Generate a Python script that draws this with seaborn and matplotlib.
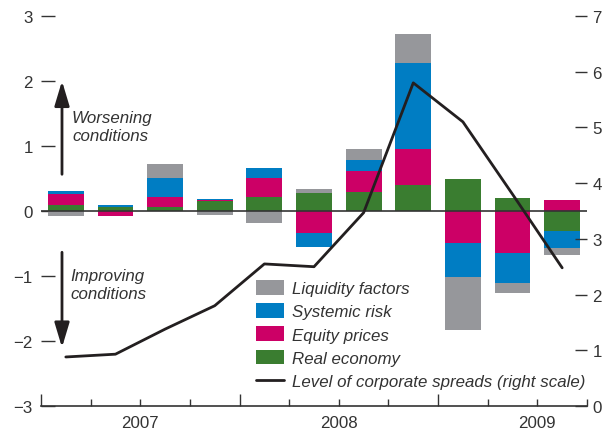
import numpy as np
import pandas as pd
import matplotlib
matplotlib.use("Agg")
import matplotlib.pyplot as plt
from matplotlib.patches import Patch
from matplotlib.lines import Line2D
from matplotlib.ticker import FixedLocator
import matplotlib.transforms as mtransforms
import seaborn as sns

# ---- data ----
quarters = ["2007Q1", "2007Q2", "2007Q3", "2007Q4",
            "2008Q1", "2008Q2", "2008Q3", "2008Q4",
            "2009Q1", "2009Q2", "2009Q3"]
real_economy = [0.09, 0.06, 0.06, 0.15, 0.22, 0.28, 0.30, 0.40, 0.49, 0.20, -0.31]
equity_prices = [0.17, -0.07, 0.15, 0.02, 0.29, -0.34, 0.31, 0.55, -0.49, -0.65, 0.17]
systemic_risk = [0.05, 0.04, 0.30, 0.02, 0.15, -0.21, 0.17, 1.32, -0.53, -0.46, -0.26]
liquidity_factors = [-0.08, 0.0, 0.22, -0.06, -0.19, 0.06, 0.17, 0.46, -0.81, -0.15, -0.11]
corporate_spreads = [0.88, 0.93, 1.38, 1.80, 2.55, 2.50, 3.47, 5.80, 5.10, 3.80, 2.48]
year_labels = ["2007", "2008", "2009"]
year_label_pos = [1.5, 5.5, 9.5]

series_names = ["Real economy", "Equity prices", "Systemic risk", "Liquidity factors"]
series_values = [real_economy, equity_prices, systemic_risk, liquidity_factors]
colors = {"Real economy": "#3a7d30",
          "Equity prices": "#cc0066",
          "Systemic risk": "#007dc3",
          "Liquidity factors": "#96979b"}
dark = "#231f20"
txt = "#333333"

sns.set_theme(style="white")
plt.rcParams["font.family"] = ["Liberation Sans", "DejaVu Sans"]
FS = 12.2

fig = plt.figure(figsize=(6.09, 4.39), dpi=100)
W, H = 609, 439
ax = fig.add_axes([41 / W, 1 - 407 / H, (587 - 41) / W, (407 - 17) / H])

x = np.arange(len(quarters))
pos_bottom = np.zeros(len(x))
neg_bottom = np.zeros(len(x))
for name, vals in zip(series_names, series_values):
    v = np.array(vals, dtype=float)
    b = np.where(v >= 0, pos_bottom, neg_bottom)
    ax.bar(x, v, bottom=b, width=0.72, color=colors[name], linewidth=0, zorder=2)
    pos_bottom += np.where(v > 0, v, 0)
    neg_bottom += np.where(v < 0, v, 0)

ax.axhline(0, color=txt, lw=1.2, zorder=3)
ax.set_xlim(-0.5, 10.5)
ax.set_ylim(-3, 3)
ax.set_yticks([-3, -2, -1, 0, 1, 2, 3])
ax.set_xticks([-0.5, 3.5, 7.5])
ax.xaxis.set_minor_locator(FixedLocator([0.5, 1.5, 2.5, 4.5, 5.5, 6.5, 8.5, 9.5, 10.5]))
ax.set_xticklabels([])
ax.tick_params(axis="x", which="major", direction="in", length=9, width=1, color=txt, bottom=True)
ax.tick_params(axis="x", which="minor", direction="in", length=5, width=1, color=txt, bottom=True)
ax.tick_params(axis="y", direction="in", length=10, width=1, color=txt, pad=6,
               labelsize=FS, labelcolor=txt, left=True)
for s in ["left", "right", "top"]:
    ax.spines[s].set_visible(False)
ax.spines["bottom"].set_color(txt)
ax.spines["bottom"].set_linewidth(1.2)
ax.grid(False)

trans = mtransforms.blended_transform_factory(ax.transData, ax.transAxes)
for lab, p in zip(year_labels, year_label_pos):
    ax.text(p, -0.022, lab, transform=trans, ha="center", va="top", fontsize=FS, color=txt)

# right axis line
ax2 = ax.twinx()
df = pd.DataFrame({"x": x, "spreads": corporate_spreads})
sns.lineplot(data=df, x="x", y="spreads", ax=ax2, color=dark, lw=2.0, zorder=4)
ax2.set_ylim(0, 7)
ax2.set_yticks(range(0, 8))
ax2.set_ylabel("")
ax2.set_xlabel("")
ax2.tick_params(axis="y", direction="in", length=9, width=1, color=txt, pad=4,
                labelsize=FS, labelcolor=txt, right=True)
for s in ["left", "right", "top", "bottom"]:
    ax2.spines[s].set_visible(False)
ax2.grid(False)

# arrows and annotations
arrow_style = "-|>,head_length=1.0,head_width=0.3"
ax.annotate("", xy=(-0.077, 2.0), xytext=(-0.077, 0.565),
            arrowprops=dict(arrowstyle=arrow_style, color=dark, lw=2.0, mutation_scale=15,
                            shrinkA=0, shrinkB=0), zorder=5)
ax.annotate("", xy=(-0.077, -2.1), xytext=(-0.077, -0.635),
            arrowprops=dict(arrowstyle=arrow_style, color=dark, lw=2.0, mutation_scale=15,
                            shrinkA=0, shrinkB=0), zorder=5)
ax.text(0.125, 1.30, "Worsening\nconditions", style="italic", fontsize=FS, color=txt,
        ha="left", va="center", linespacing=1.25)
ax.text(0.085, -1.13, "Improving\nconditions", style="italic", fontsize=FS, color=txt,
        ha="left", va="center", linespacing=1.25)

# legend
handles = [Patch(color=colors["Liquidity factors"], lw=0),
           Patch(color=colors["Systemic risk"], lw=0),
           Patch(color=colors["Equity prices"], lw=0),
           Patch(color=colors["Real economy"], lw=0),
           Line2D([0], [0], color=dark, lw=2.0)]
labels = ["Liquidity factors", "Systemic risk", "Equity prices", "Real economy",
          "Level of corporate spreads (right scale)"]
leg = ax2.legend(handles, labels, loc="upper left",
                 bbox_to_anchor=(256 / W, 1 - 281 / H), bbox_transform=fig.transFigure,
                 frameon=False, fontsize=FS, handlelength=1.65, handleheight=0.95,
                 handletextpad=0.5, labelspacing=0.42, borderpad=0, borderaxespad=0)
for t in leg.get_texts():
    t.set_style("italic")
    t.set_color(txt)

fig.savefig("out.png", dpi=100)
